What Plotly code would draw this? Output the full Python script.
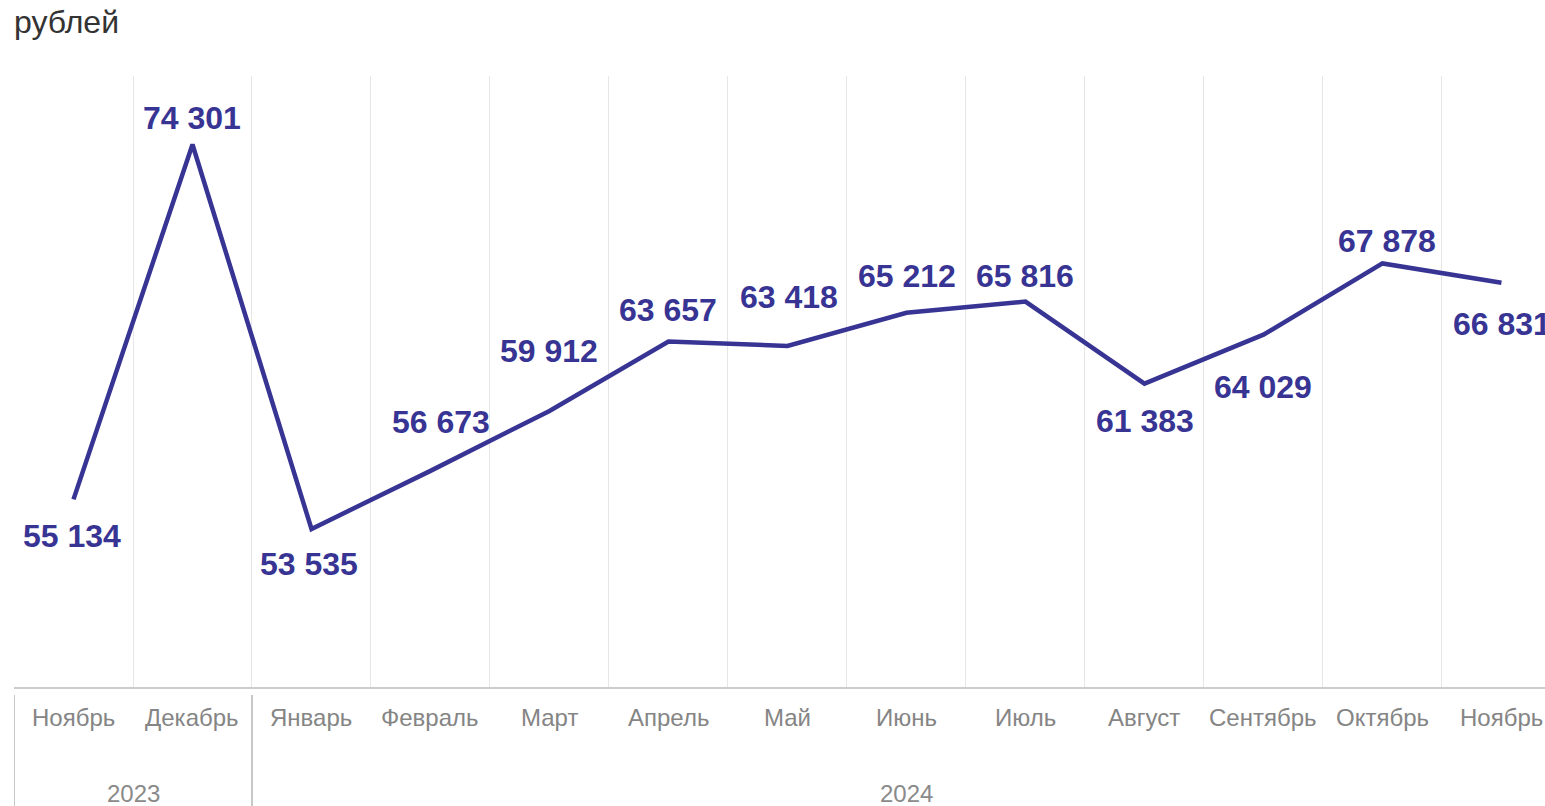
import plotly.graph_objects as go

# ---- data ----
months = ["Ноябрь", "Декабрь", "Январь", "Февраль", "Март", "Апрель", "Май",
          "Июнь", "Июль", "Август", "Сентябрь", "Октябрь", "Ноябрь"]
years = ["2023", "2024"]
year_counts = [2, 11]
values = [55134, 74301, 53535, 56673, 59912, 63657, 63418,
          65212, 65816, 61383, 64029, 67878, 66831]

# ---- label placement (pixel offsets; styling only) ----
label_dy = [37, -26, 35, -49, -60, -32, -49, -37, -26, 37, 52, -22, 41]
label_dx = [-2, 0, -2, 11, 0, 0, 2, 1, 0, 1, 0, 5, 1]

W, H = 1545, 806
ML, MR, MT, MB = 14, 0, 76, 119
PH = H - MT - MB

LINE = "#373494"
FONT = "Liberation Sans, Arial"
x = list(range(len(values)))

fig = go.Figure()
fig.add_trace(go.Scatter(
    x=x, y=values, mode="lines",
    line=dict(color=LINE, width=4.5),
    hoverinfo="skip", showlegend=False, cliponaxis=False,
))

for xi, v, dy, dx in zip(x, values, label_dy, label_dx):
    fig.add_annotation(
        x=xi, y=v, xref="x", yref="y",
        text="<b>" + f"{v:,}".replace(",", " ") + "</b>",
        showarrow=False, xshift=dx, yshift=-dy,
        font=dict(family=FONT, size=32, color=LINE),
        xanchor="center", yanchor="middle",
    )

# month tick labels
for xi, m in zip(x, months):
    fig.add_annotation(
        x=xi, y=0, xref="x", yref="paper", text=m, showarrow=False,
        yshift=-30, yanchor="middle",
        font=dict(family=FONT, size=24, color="#858585"),
    )

# year groups
start = -0.5
bounds = [start]
for yr, c in zip(years, year_counts):
    end = start + c
    fig.add_annotation(
        x=(start + end) / 2, y=0, xref="x", yref="paper", text=yr,
        showarrow=False, yshift=-106, yanchor="middle",
        font=dict(family=FONT, size=24, color="#8a8a8a"),
    )
    bounds.append(end)
    start = end

for b in bounds:
    fig.add_shape(
        type="line", xref="x", yref="paper", x0=b, x1=b,
        y0=-8 / PH, y1=-(MB + 5) / PH,
        line=dict(color="#c8c8c8", width=2),
    )

# title
fig.add_annotation(
    x=0, y=1, xref="paper", yref="paper", text="рублей", showarrow=False,
    xanchor="left", yanchor="middle", yshift=54, xshift=-2,
    font=dict(family=FONT, size=32, color="#333333"),
)

grid_vals = [i - 0.5 for i in range(len(values) + 1)]

fig.update_layout(
    width=W, height=H,
    margin=dict(l=ML, r=MR, t=MT, b=MB),
    paper_bgcolor="white", plot_bgcolor="white",
    xaxis=dict(
        range=[-0.5, 12.366], showticklabels=False, showgrid=False,
        zeroline=False, showline=True, linecolor="#cccccc", linewidth=2,
        tickvals=x, ticks="",
        minor=dict(tickvals=grid_vals, showgrid=True, gridcolor="#e6e6e6",
                   gridwidth=1, ticks=""),
        fixedrange=True,
    ),
    yaxis=dict(range=[45000, 78000], visible=False, fixedrange=True),
)

fig.write_html(
    "out.html",
    config={"displayModeBar": False},
    post_script="document.body.style.margin='0';"
                "document.body.style.overflow='hidden';"
                "document.documentElement.style.overflow='hidden';",
)
